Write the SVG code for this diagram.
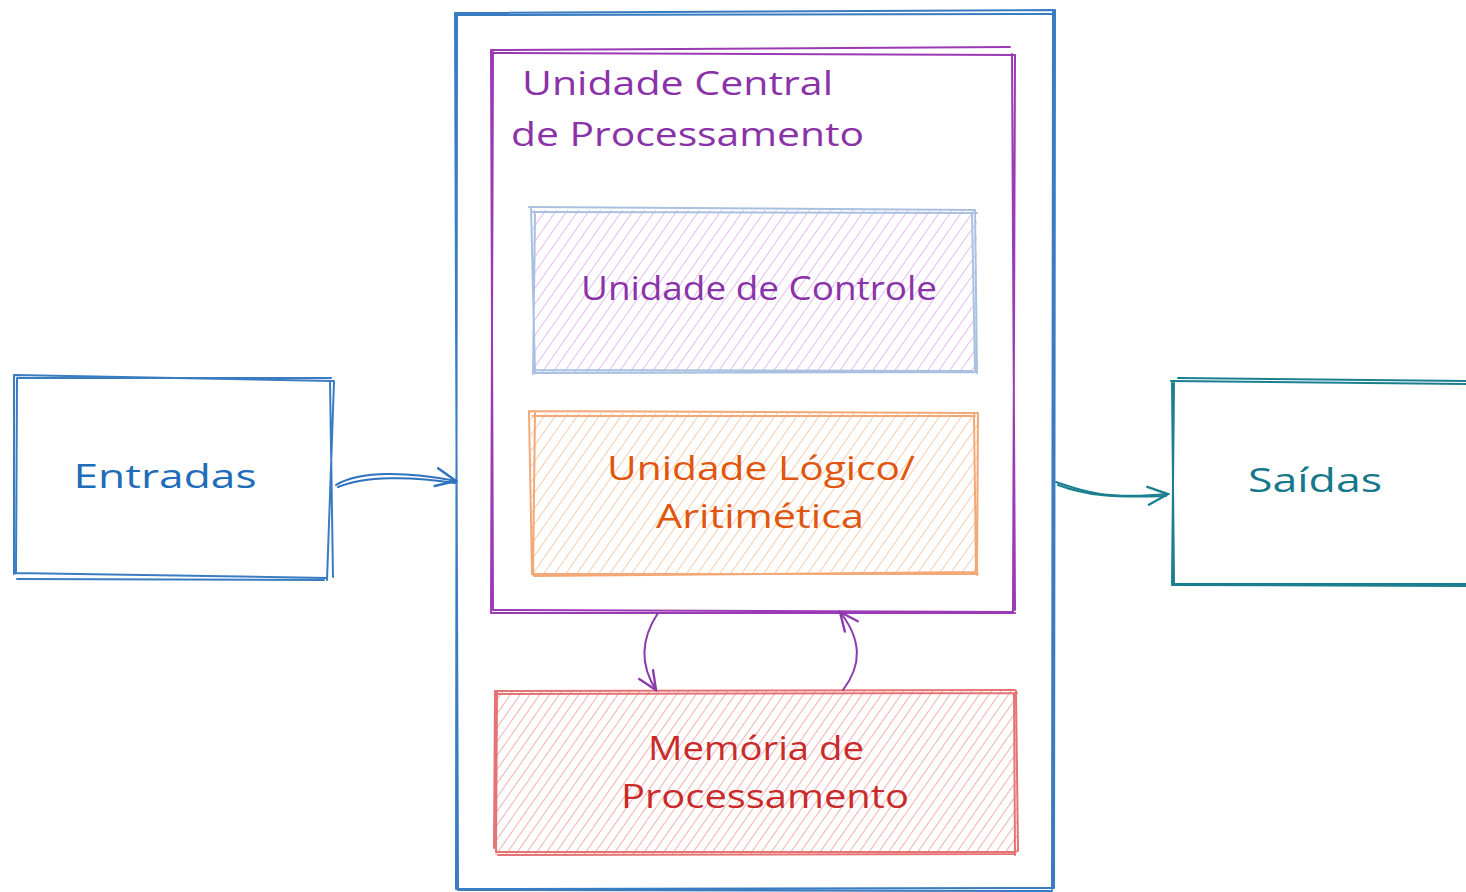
<svg xmlns="http://www.w3.org/2000/svg" width="1466" height="892" viewBox="0 0 1466 892">
<defs>
<pattern id="hPurple" width="9" height="9" patternUnits="userSpaceOnUse" patternTransform="rotate(35)"><line x1="0" y1="0" x2="0" y2="9" stroke="#e1b0f2" stroke-width="1.7"/></pattern>
<pattern id="hOrange" width="9" height="9" patternUnits="userSpaceOnUse" patternTransform="rotate(35)"><line x1="0" y1="0" x2="0" y2="9" stroke="#f8c4a0" stroke-width="1.7"/></pattern>
<pattern id="hRed" width="8" height="8" patternUnits="userSpaceOnUse" patternTransform="rotate(35)"><line x1="0" y1="0" x2="0" y2="8" stroke="#f2a3a3" stroke-width="1.7"/></pattern>
<marker id="aBlue" viewBox="0 0 24 24" refX="22" refY="12" markerWidth="24" markerHeight="24" markerUnits="userSpaceOnUse" orient="auto"><path d="M2 3 L22 12 L2 21" fill="none" stroke="#2f72bd" stroke-width="2.4" stroke-linecap="round"/></marker>
<marker id="aTeal" viewBox="0 0 24 24" refX="22" refY="12" markerWidth="24" markerHeight="24" markerUnits="userSpaceOnUse" orient="auto"><path d="M2 3 L22 12 L2 21" fill="none" stroke="#1b7f8f" stroke-width="2.4" stroke-linecap="round"/></marker>
<marker id="aPurple" viewBox="0 0 24 24" refX="22" refY="12" markerWidth="22" markerHeight="22" markerUnits="userSpaceOnUse" orient="auto"><path d="M2 3 L22 12 L2 21" fill="none" stroke="#8a3aad" stroke-width="2.6" stroke-linecap="round"/></marker>
</defs>
<style>
.sk{fill:none;stroke-width:2;stroke-linecap:round;stroke-linejoin:round}
.t{font-family:"Open Sans","Liberation Sans",sans-serif;font-size:33px}
.c{text-anchor:middle}
</style>
<rect width="1466" height="892" fill="#ffffff"/>

<g id="cpu-outer">
<path class="sk" stroke="#3a7cc2" d="M455 13 L1055 10 M456 15 L1053 14 M455 13 L458 890 M457 16 L456 888 M1053 12 L1052 889 M1055 10 L1054 888 M456 889 L1053 888 M458 890 L1052 891"/>
</g>

<g id="cpu">
<path class="sk" stroke="#9c3ab5" d="M491 50 L1010 47 M492 53 L1015 55 M491 50 L493 610 M493 52 L491 612 M1015 55 L1013 612 M1012 54 L1015 610 M493 610 L1013 612 M491 613 L1015 613"/>
<text class="t" fill="#8a33a8" x="522" y="95" textLength="311" lengthAdjust="spacingAndGlyphs">Unidade Central</text>
<text class="t" fill="#8a33a8" x="511" y="146" textLength="353" lengthAdjust="spacingAndGlyphs">de Processamento</text>
</g>

<g id="controle">
<rect x="533" y="210" width="444" height="163" fill="url(#hPurple)"/>
<path class="sk" stroke="#a9c0e0" d="M529 207 L975 210 M533 212 L977 213 M531 207 L535 372 M535 212 L533 374 M975 210 L977 373 M972 213 L975 371 M533 373 L977 372 M535 370 L972 371"/>
<text class="t c" fill="#8a33a8" x="759" y="300" textLength="356" lengthAdjust="spacingAndGlyphs">Unidade de Controle</text>
</g>

<g id="ula">
<rect x="531" y="413" width="447" height="162" fill="url(#hOrange)"/>
<path class="sk" stroke="#f3a977" d="M529 411 L978 413 M533 416 L975 416 M529 411 L532 574 M535 413 L533 575 M978 413 L977 575 M974 415 L976 573 M532 574 L978 574 M534 576 L975 572"/>
<text class="t c" fill="#e0560f" x="761" y="480" textLength="308" lengthAdjust="spacingAndGlyphs">Unidade Lógico/</text>
<text class="t c" fill="#e0560f" x="760" y="528" textLength="208" lengthAdjust="spacingAndGlyphs">Aritimética</text>
</g>

<g id="memoria">
<rect x="495" y="691" width="522" height="164" fill="url(#hRed)"/>
<path class="sk" stroke="#e57373" d="M495 691 L1015 690 M496 694 L1017 693 M495 691 L494 848 M497 692 L496 852 M1016 691 L1018 851 M1014 693 L1015 855 M496 852 L1016 852 M498 855 L1014 854"/>
<text class="t c" fill="#c92a2a" x="756" y="760" textLength="216" lengthAdjust="spacingAndGlyphs">Memória de</text>
<text class="t c" fill="#c92a2a" x="765" y="808" textLength="288" lengthAdjust="spacingAndGlyphs">Processamento</text>
</g>

<g id="entradas">
<path class="sk" stroke="#3a7cc2" d="M14 375 L334 381 M17 378 L331 378 M14 376 L14 574 M17 379 L16 572 M330 381 L333 577 M334 382 L327 580 M14 573 L327 578 M17 579 L324 580"/>
<text class="t c" fill="#1f6cb8" x="165" y="488" textLength="183" lengthAdjust="spacingAndGlyphs">Entradas</text>
</g>

<g id="saidas">
<path class="sk" stroke="#1b7f8f" d="M1171 381 L1466 384 M1178 378 L1466 381 M1172 382 L1174 584 M1174 383 L1172 585 M1173 585 L1466 586 M1174 584 L1466 584"/>
<text class="t c" fill="#16788a" x="1315" y="492" textLength="134" lengthAdjust="spacingAndGlyphs">Saídas</text>
</g>

<g id="connectors">
<path class="sk" stroke="#2f72bd" stroke-width="2.4" d="M336 485 C 360 470, 410 472, 456 481" marker-end="url(#aBlue)"/>
<path class="sk" stroke="#2f72bd" stroke-width="1.4" d="M338 487 C 365 476, 410 476, 455 483"/>
<path class="sk" stroke="#1b7f8f" stroke-width="2.4" d="M1056 482 C 1080 490, 1100 500, 1168 494" marker-end="url(#aTeal)"/>
<path class="sk" stroke="#1b7f8f" stroke-width="1.4" d="M1058 485 C 1085 495, 1110 498, 1166 496"/>
<path class="sk" stroke="#8a3aad" stroke-width="2.6" d="M658 613 C 640 640, 640 665, 656 690" marker-end="url(#aPurple)"/>
<path class="sk" stroke="#8a3aad" stroke-width="2.6" d="M843 690 C 862 665, 862 640, 840 612" marker-end="url(#aPurple)"/>
</g>
</svg>
